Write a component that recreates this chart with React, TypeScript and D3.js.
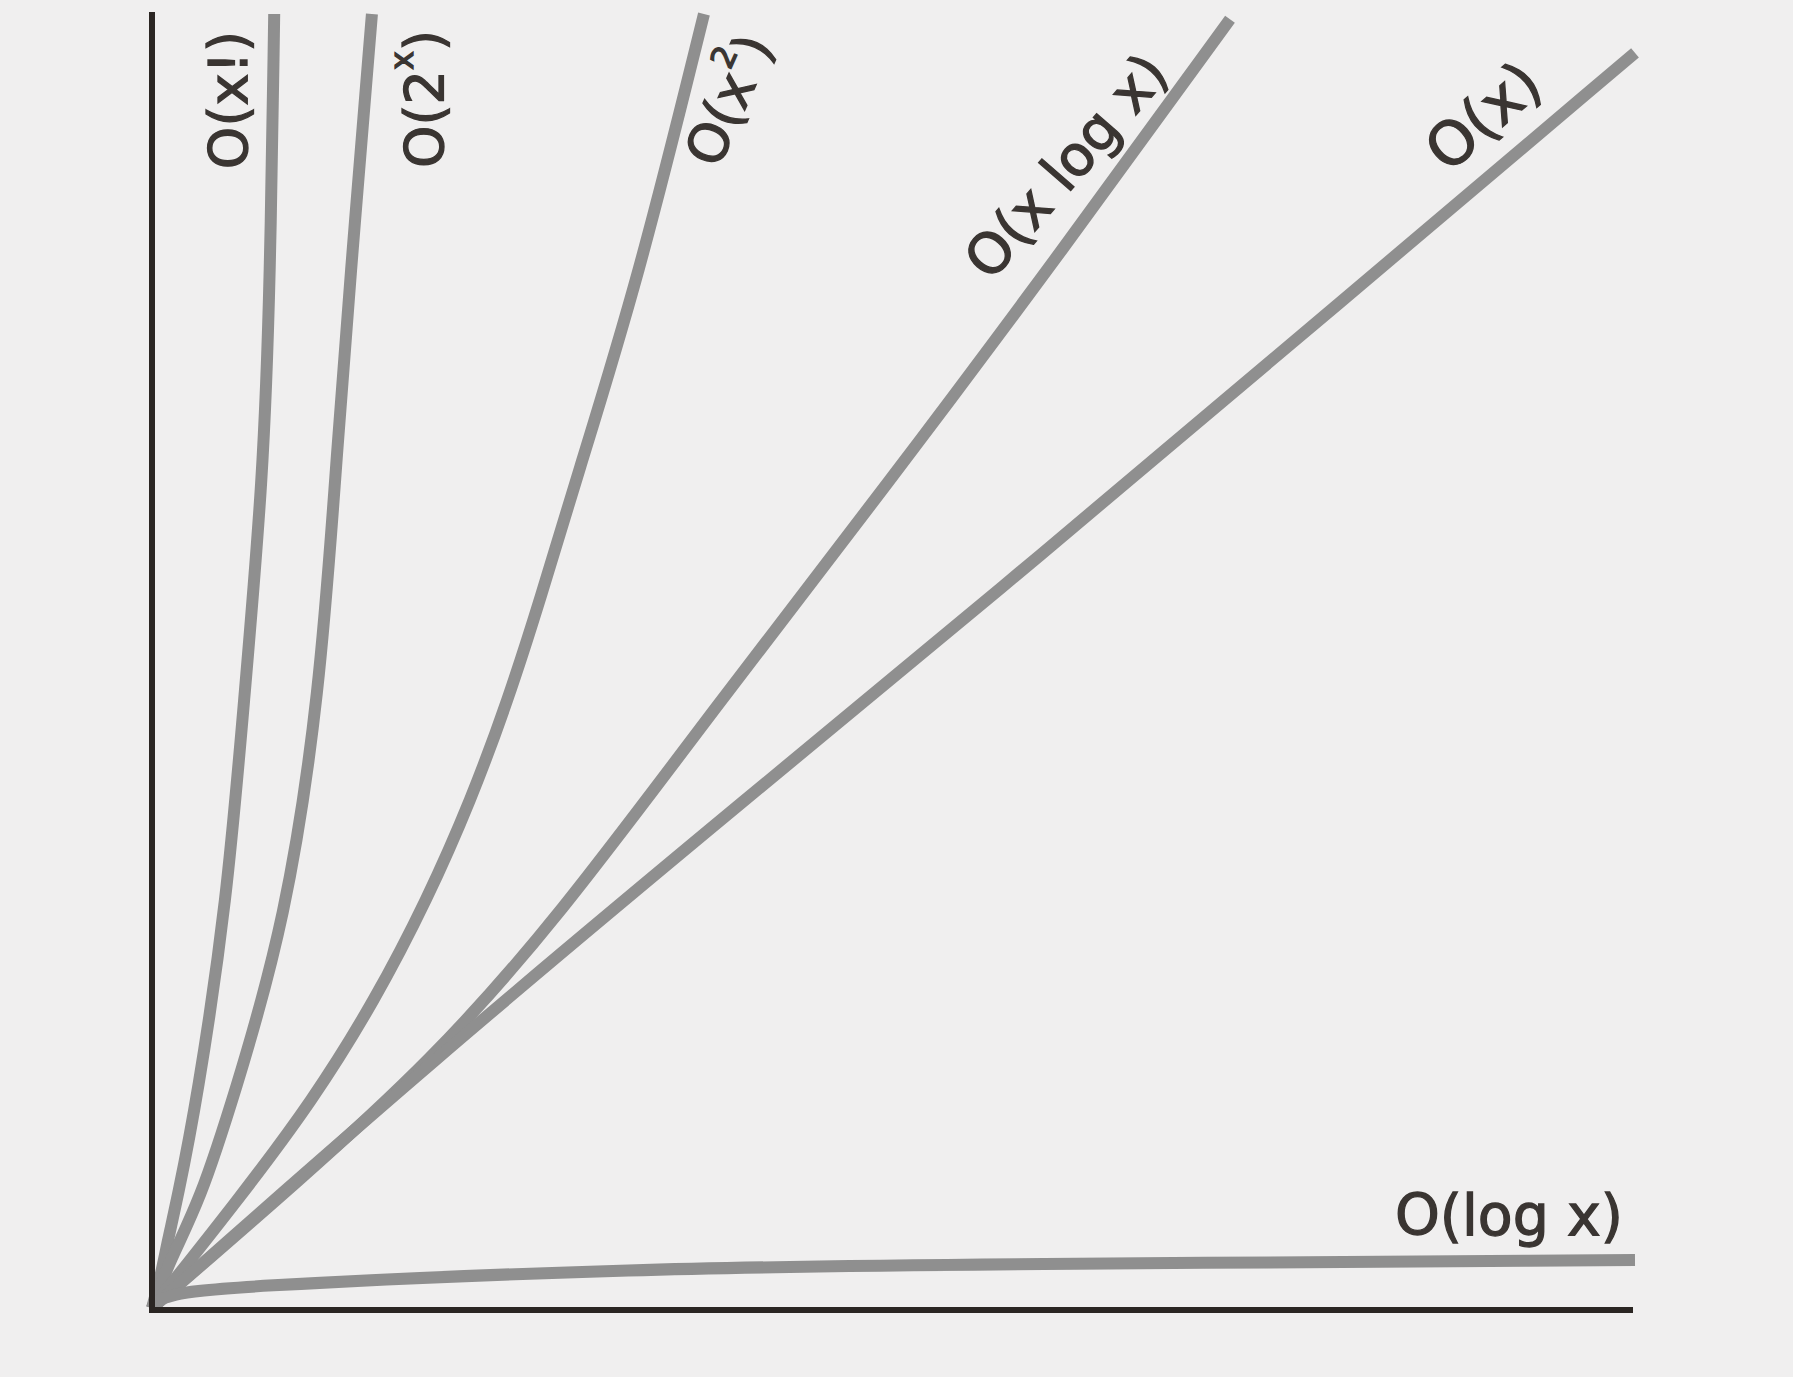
import React from "react";
import * as d3 from "d3";

// Curves, in a 0-100 x 0-100 unit space (x right, y up)
const factorialPts: [number, number][] = [
  [0, 0], [0.54, 2.2], [1.08, 5.3], [1.69, 8.35], [3.04, 16.1], [5.06, 31.5],
  [6.21, 47.0], [7.49, 64.0], [7.97, 79.4], [8.24, 100],
];
const exponentialPts: [number, number][] = [
  [0, 0], [1.21, 3.7], [3.24, 8.35], [5.46, 16.1], [9.04, 30.0], [11.33, 47.8],
  [12.34, 64.0], [13.35, 79.4], [14.83, 100],
];
const quadraticPts: [number, number][] = [
  [0, 0], [5.8, 8.35], [10.86, 16.07], [15.04, 23.8], [18.54, 31.53], [21.51, 39.26],
  [24.01, 47.0], [26.16, 54.7], [28.59, 64.0], [32.77, 79.4], [37.22, 100],
];
const linearithmicPts: [number, number][] = [
  [0, 0], [9.98, 9.89], [18.75, 19.0], [27.31, 30.0], [38.09, 46.6],
  [49.56, 63.6], [61.43, 81.8], [72.69, 99.6],
];
const linearPts: [number, number][] = [
  [0, 0], [18.75, 19.0], [40, 39.3], [60, 58.2], [80, 77.6], [100, 97.0],
];
const logPts: [number, number][] = [
  [0, 0], [0.34, 0.62], [1.4, 1.0], [3.7, 1.6], [33, 3.1], [57, 3.4], [100, 3.7],
];

const seriesNames = ["O(x!)", "O(2^x)", "O(x^2)", "O(x log x)", "O(x)", "O(log x)"];
const seriesData = [factorialPts, exponentialPts, quadraticPts, linearithmicPts, linearPts, logPts];

const W = 1793;
const H = 1377;

export default function App() {
  const x = d3.scaleLinear().domain([0, 100]).range([152, 1635]);
  const y = d3.scaleLinear().domain([0, 100]).range([1308, 14]);
  const line = d3
    .line<[number, number]>()
    .x((d) => x(d[0]))
    .y((d) => y(d[1]))
    .curve(d3.curveBasis);

  const textFill = "#3a3532";
  const font = "DejaVu Sans";

  return (
    <svg
      width={W}
      height={H}
      style={{ position: "absolute", left: 0, top: 0 }}
      xmlns="http://www.w3.org/2000/svg"
    >
      <rect x={0} y={0} width={W} height={H} fill="#f0efef" />
      {seriesData.map((pts, i) => (
        <path
          key={seriesNames[i]}
          d={line(pts) || ""}
          fill="none"
          stroke="#8f8f8f"
          strokeWidth={12}
          strokeLinecap="butt"
          strokeLinejoin="round"
        />
      ))}
      {/* axes */}
      <line x1={x(0)} y1={y(100) - 2} x2={x(0)} y2={y(0) + 3} stroke="#2b2623" strokeWidth={6} />
      <line x1={x(0) - 3} y1={y(0) + 2} x2={x(100) - 2} y2={y(0) + 2} stroke="#2b2623" strokeWidth={6} />

      <g fontFamily={font} fill={textFill} stroke={textFill} strokeWidth={1.3}>
        <text
          transform="translate(228,100) rotate(-90)"
          textAnchor="middle"
          dominantBaseline="central"
          fontSize={54}
        >
          O(x!)
        </text>
        <text
          transform="translate(424,99) rotate(-90)"
          textAnchor="middle"
          dominantBaseline="central"
          fontSize={54}
        >
          O(2<tspan fontSize={32} dy={-22}>x</tspan>
          <tspan dy={22}>)</tspan>
        </text>
        <text
          transform="translate(729,100) rotate(-66)"
          textAnchor="middle"
          dominantBaseline="central"
          fontSize={54}
        >
          O(x<tspan fontSize={32} dy={-22}>2</tspan>
          <tspan dy={22}>)</tspan>
        </text>
        <text
          transform="translate(1066,166) rotate(-49)"
          textAnchor="middle"
          dominantBaseline="central"
          fontSize={56}
        >
          O(x log x)
        </text>
        <text
          transform="translate(1483,116) rotate(-41)"
          textAnchor="middle"
          dominantBaseline="central"
          fontSize={60}
        >
          O(x)
        </text>
        <text x={1623} y={1235} textAnchor="end" fontSize={57}>
          O(log x)
        </text>
      </g>
    </svg>
  );
}
